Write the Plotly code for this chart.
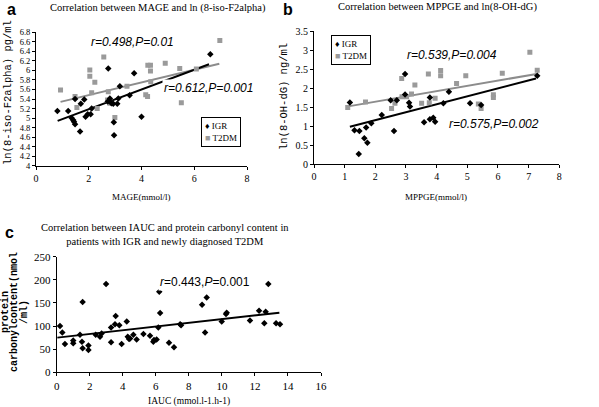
import plotly.graph_objects as go

# panel a: MAGE vs ln(8-iso-F2alpha)
a_igr_x = [0.81, 1.22, 1.35, 1.41, 1.44, 1.48, 1.48, 1.67, 1.70, 1.83, 1.88, 1.96, 2.07, 2.11,
           2.74, 2.72, 2.80, 2.86, 2.93, 2.95, 2.96, 3.08, 3.12, 3.18, 3.55, 3.72, 4.00, 6.61]
a_igr_y = [5.15, 5.15, 5.00, 4.96, 4.92, 4.87, 5.40, 4.72, 5.30, 5.39, 5.03, 5.08, 5.08, 5.20,
           6.04, 5.35, 5.41, 5.31, 5.30, 4.91, 4.64, 5.30, 5.41, 5.67, 5.48, 5.94, 5.03, 6.34]
a_t2dm_x = [0.93, 1.48, 1.55, 2.04, 2.04, 2.11, 2.23, 2.32, 2.57, 2.74, 2.71, 2.80, 2.99, 3.45,
            4.16, 4.23, 4.24, 4.34, 4.34, 4.35, 4.90, 5.45, 5.51, 6.08, 6.97]
a_t2dm_y = [5.59, 5.45, 5.22, 6.01, 5.88, 5.53, 5.75, 5.20, 6.28, 5.55, 5.38, 5.31, 5.01, 5.67,
            5.49, 5.45, 6.11, 6.11, 5.99, 5.76, 6.15, 6.04, 5.32, 6.03, 6.63]
a_igr_fit_x = [0.82, 6.56]
a_igr_fit_y = [4.94, 6.13]
a_t2dm_fit_x = [0.93, 6.95]
a_t2dm_fit_y = [5.34, 6.14]

# panel b: MPPGE vs ln(8-OH-dG)
b_igr_x = [1.17, 1.32, 1.48, 1.46, 1.64, 1.70, 1.74, 1.87, 2.21, 2.61, 2.50, 2.70, 2.97, 2.97,
           3.10, 3.13, 3.59, 3.78, 3.78, 3.89, 3.95, 4.22, 4.40, 5.09, 5.45, 7.28]
b_igr_y = [1.62, 0.89, 0.87, 0.26, 0.68, 0.96, 0.56, 1.07, 1.29, 0.87, 1.68, 1.68, 2.37, 1.83,
           1.61, 1.51, 1.10, 1.75, 1.18, 1.22, 1.11, 1.60, 1.90, 1.60, 1.55, 2.32]
b_t2dm_x = [1.10, 1.68, 2.53, 2.64, 2.86, 2.87, 3.02, 3.18, 3.29, 3.51, 3.73, 3.76, 3.95, 4.13,
            4.13, 4.65, 4.95, 5.36, 5.45, 5.85, 5.85, 6.14, 7.04, 7.28]
b_t2dm_y = [1.49, 1.63, 1.46, 1.60, 2.25, 1.77, 1.77, 1.84, 2.08, 1.60, 2.37, 1.61, 1.73, 2.46,
            2.32, 2.12, 2.32, 1.58, 1.46, 1.82, 1.75, 2.39, 2.94, 2.47]
b_igr_fit_x = [1.17, 7.24]
b_igr_fit_y = [0.98, 2.25]
b_t2dm_fit_x = [1.07, 7.26]
b_t2dm_fit_y = [1.51, 2.37]

# panel c: IAUC vs protein carbonyl content
c_x = [0.20, 0.34, 0.50, 1.00, 1.00, 1.41, 1.53, 1.57, 1.57, 1.92, 1.92, 2.36, 2.62, 2.72,
       2.99, 3.29, 3.29, 3.53, 3.57, 3.79, 3.93, 4.24, 4.30, 4.38, 4.44, 4.64, 4.84, 5.25,
       5.65, 5.85, 5.89, 6.05, 6.15, 6.21, 6.26, 6.80, 7.10, 7.47, 7.53, 8.80, 8.98, 9.08,
       9.99, 10.25, 10.29, 11.70, 12.25, 12.65, 12.57, 12.81, 13.28, 13.52]
c_y = [100, 86, 61, 63, 69, 81, 66, 52, 152, 58, 48, 81, 77, 84,
       191, 97, 65, 104, 122, 102, 61, 110, 77, 72, 73, 81, 71, 83,
       79, 66, 70, 71, 97, 174, 128, 64, 54, 104, 102, 146, 86, 162,
       110, 126, 129, 112, 133, 131, 106, 191, 106, 104]
c_fit_x = [0.04, 13.48]
c_fit_y = [75, 129]

W, H = 599, 407


def px(x):
    return x / W


def py(y):
    return 1 - y / H


mono = "Liberation Mono"
serif = "Liberation Serif"
gray_line = "#8c8c8c"
gray_mark = "#9a9a9a"

fig = go.Figure()


def points(xs, ys, color, symbol, xa, ya):
    fig.add_trace(go.Scatter(x=xs, y=ys, mode="markers", xaxis=xa, yaxis=ya, showlegend=False,
                             marker=dict(color=color, symbol=symbol, size=5)))


def fit(xs, ys, color, xa, ya):
    fig.add_trace(go.Scatter(x=xs, y=ys, mode="lines", xaxis=xa, yaxis=ya, showlegend=False,
                             line=dict(color=color, width=2)))


fit(a_t2dm_fit_x, a_t2dm_fit_y, gray_line, "x", "y")
fit(a_igr_fit_x, a_igr_fit_y, "black", "x", "y")
points(a_t2dm_x, a_t2dm_y, gray_mark, "square", "x", "y")
points(a_igr_x, a_igr_y, "black", "diamond", "x", "y")

fit(b_t2dm_fit_x, b_t2dm_fit_y, gray_line, "x2", "y2")
fit(b_igr_fit_x, b_igr_fit_y, "black", "x2", "y2")
points(b_t2dm_x, b_t2dm_y, gray_mark, "square", "x2", "y2")
points(b_igr_x, b_igr_y, "black", "diamond", "x2", "y2")

fit(c_fit_x, c_fit_y, "black", "x3", "y3")
points(c_x, c_y, "black", "diamond", "x3", "y3")

axis_style = dict(showline=True, linecolor="black", linewidth=1, ticks="outside", ticklen=3,
                  tickcolor="black", showgrid=False, zeroline=False, automargin=False,
                  tickfont=dict(family=serif, size=10, color="black"))

fig.update_layout(
    width=W, height=H, margin=dict(l=0, r=0, t=0, b=0, autoexpand=False),
    paper_bgcolor="white", plot_bgcolor="white", showlegend=False,
    xaxis=dict(axis_style, domain=[px(36), px(247)], anchor="y", range=[0, 8], dtick=2),
    yaxis=dict(axis_style, domain=[py(165.7), py(32.3)], anchor="x", range=[4, 6.8], dtick=0.2,
               tickfont=dict(family=serif, size=8.5, color="black")),
    xaxis2=dict(axis_style, domain=[px(314), px(559.3)], anchor="y2", range=[0, 8], dtick=1),
    yaxis2=dict(axis_style, domain=[py(164), py(31)], anchor="x2", range=[0, 3.5], dtick=0.5),
    xaxis3=dict(axis_style, domain=[px(56.7), px(321)], anchor="y3", range=[0, 16], dtick=2,
                tickfont=dict(family=serif, size=11, color="black")),
    yaxis3=dict(axis_style, domain=[py(372.3), py(256.7)], anchor="x3", range=[0, 250], dtick=50,
                tickfont=dict(family=serif, size=11, color="black")),
)


def label(x, y, text, size, family=serif, angle=0, **kw):
    fig.add_annotation(x=px(x), y=py(y), xref="paper", yref="paper", showarrow=False,
                       xanchor="center", yanchor="middle", text=text, textangle=angle,
                       font=dict(family=family, size=size, color="black"), **kw)


# titles
label(158, 8, "Correlation between MAGE and ln (8-iso-F2alpha)", 10.5)
label(437, 7, "Correlation between MPPGE and ln(8-OH-dG)", 10.5)
label(165, 235, "Correlation between IAUC and protein carbonyl content in<br>"
                "patients with IGR and newly diagnosed T2DM", 10.5)

# axis titles
label(141, 197, "MAGE(mmol/l)", 9)
label(436, 197, "MPPGE(mmol/l)", 9)
label(189, 401, "IAUC (mmol.l-1.h-1)", 9.5)
label(8, 93, "ln(8-iso-F2alpha) pg/ml", 10.5, family=mono, angle=-90)
label(284, 97, "ln(8-OH-dG) ng/ml", 10.5, family=mono, angle=-90)
label(5, 312, "<b>protein</b>", 10, family=mono, angle=-90)
label(14, 312, "<b>carbonylcontent(nmol</b>", 10, family=mono, angle=-90)
label(24, 312, "<b>/ml)</b>", 10, family=mono, angle=-90)

# legends
legend_text = ("<span style='color:black'>\u2666</span> IGR<br>"
               "<span style='color:#9a9a9a'>\u25a0</span> T2DM")
label(220.5, 132, legend_text, 9, bordercolor="black", borderwidth=1, borderpad=3,
      bgcolor="white", align="left")
label(350.5, 50, legend_text, 9, bordercolor="black", borderwidth=1, borderpad=3,
      bgcolor="white", align="left")

# panel letters
for lx, ly, lt in [(11, 10, "a"), (288, 10, "b"), (9, 232, "c")]:
    label(lx, ly, "<b>" + lt + "</b>", 16, family="Arial, Liberation Sans")

stat_font = dict(family="Arial, Liberation Sans", size=12, color="black")
for xr, yr, sx, sy, st in [("x", "y", 3.66, 6.59, "<i>r=0.498,P=0.01</i>"),
                           ("x", "y", 6.55, 5.63, "<i>r=0.612,P=0.001</i>"),
                           ("x2", "y2", 4.49, 2.87, "<i>r=0.539,P=0.004</i>"),
                           ("x2", "y2", 5.87, 1.04, "<i>r=0.575,P=0.002</i>"),
                           ("x3", "y3", 8.98, 196, "<i>r</i>=0.443,<i>P</i>=0.001")]:
    fig.add_annotation(x=sx, y=sy, xref=xr, yref=yr, text=st, showarrow=False,
                       font=stat_font, bgcolor="white")

# drop the default 8px body margin so the figure sits at the window's corner
fig.write_html("out.html", config={"displayModeBar": False},
               post_script="document.body.style.margin = '0';")
